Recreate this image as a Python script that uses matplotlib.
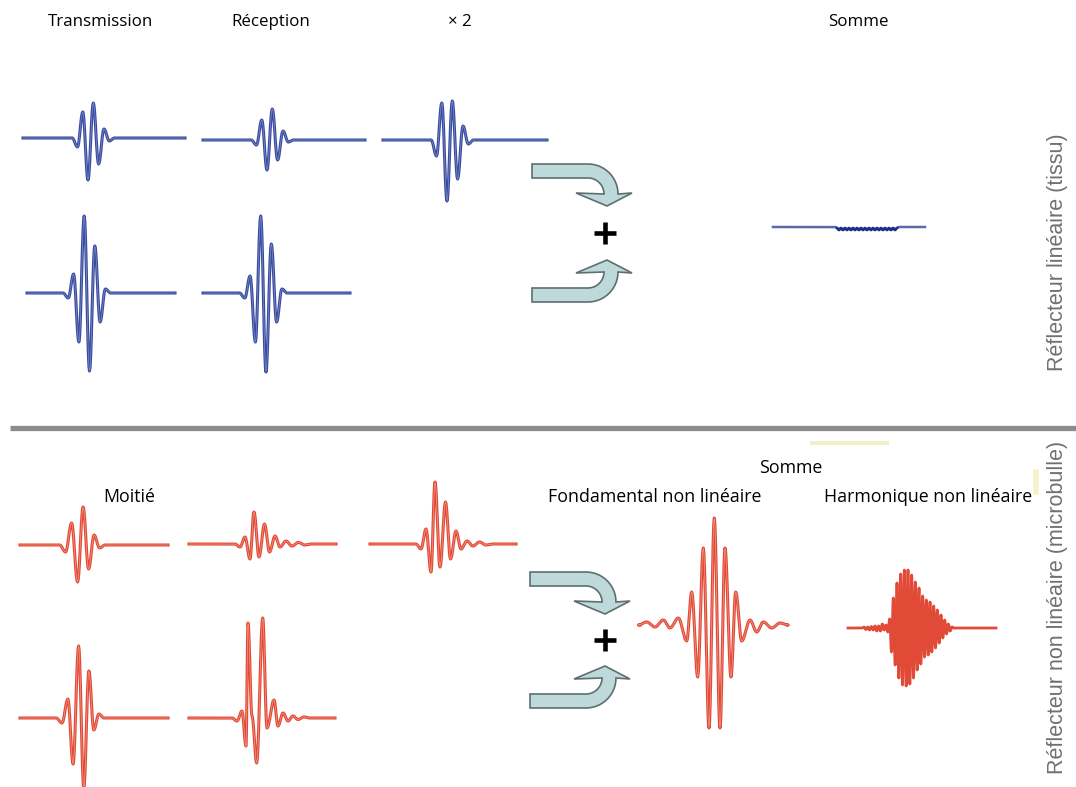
import matplotlib
matplotlib.use('Agg')
import matplotlib.pyplot as plt
import numpy as np
from matplotlib.patches import Polygon

# pulse shapes: extrema offsets (px from pulse centre) and amplitudes (px, up = +)
tx_off = [-10.5, -5.2, 0, 5.3, 10.6, 16, 21.3]
tx_amp = [-9, 26, -42, 35, -26, 9, -3]
rx_amp = [-5, 20, -30, 31, -20, 9, -2]
rx2_amp = [-16, 37, -61, 39, -39, 14, -4]
inv_off = [-21.2, -15.9, -10.6, -5.3, 0, 5.3, 10.6, 15.9]
inv_tx_amp = [-5, 19, -49, 77, -78, 47, -29, 4]
inv_rx_amp = [-5, 17, -49, 77, -79, 49, -29, 4]
lin_sum_amp = [-1, -3, -1, -3, -1, -3, -1, -3, -1, -3, -1, -3, -1, -3, -1, -3,
               -1, -3, -1, -3, -1, -3, -1, -3, -1, -3, -1, -3, -1, -3, -1]

half_off = [-12, -6, 0, 5.5, 11, 16.5, 22]
half_amp = [-7, 22, -37, 38, -24, 10, -3]
mb_off = [-14, -9, -4, 0, 5, 10.5, 15.5, 21, 26, 32, 38, 44.5, 51]
mb_rx_amp = [-3, 7, -15, 32, -13, 20, -8, 8, -3, 3, -2, 1.5, -1]
mb_rx2_amp = [-5, 15, -28, 62, -23, 42, -15, 13, -5, 3, -2, 2, -1]
mb_inv_off = [-16.6, -10.7, -5.5, 0, 5.2, 10.3, 15.2, 20.3]
mb_inv_amp = [-5, 19, -46, 72, -70, 47, -12, 4]
mb_inv_rx_off = [-11, -6, -2, 0, 4, 8.7, 14.7, 19, 26, 30, 35, 40, 45, 50, 56]
mb_inv_rx_amp = [-3, 7, -28, 95, 2, -45, 100, -10, 18, -8, 5, -3, 2, -1.5, 1]
fund_off = [-67.6, -59.3, -51, -44.3, -36, -27.6, -22.6, -16.6, -11, -5.3, 0,
            5.7, 10.7, 16.7, 21.4, 27.4, 35.7, 42.4, 49, 57.4, 65.7]
fund_amp = [3, -2, 5, -3, 7, -16, 33, -52, 77, -103, 107,
            -103, 77, -52, 33, -16, 5, -7, 3, -3, 2]
harm_amp = [1, -1.5, 1, -2, 1.5, -2, 2, -3, 2, -3, 4, -2, 3, -4, 9, -24, 30, -37,
            45, -50, 54, -57, 58, -58, 58, -56, 53, -50, 46, -42, 40, -36, 32, -29,
            28, -27, 26, -24, 22, -20, 18, -15, 13, -10, 8, -6, 4, -3, 1]
lin_sum_off = list(np.linspace(-30, 30, len(lin_sum_amp)))
harm_off = list(np.linspace(-44, 44, len(harm_amp)))

top_labels = ['Transmission', 'Réception', '× 2', 'Somme']
bottom_labels = ['Moitié', 'Somme', 'Fondamental non linéaire', 'Harmonique non linéaire']
side_labels = ['Réflecteur linéaire (tissu)', 'Réflecteur non linéaire (microbulle)']

BLUE = ('#3a4c9e', '#7f8fd0')
RED = ('#e24a38', '#f39a88')


def wave_xy(offs, amps, cx, base, x0, x1, n=10):
    xs = [cx + o for o in offs]
    kx = [x0, xs[0] - (offs[1] - offs[0])] + xs + [xs[-1] + (offs[-1] - offs[-2]), x1]
    ky = [0, 0] + list(amps) + [0, 0]
    X, Y = [], []
    t = np.linspace(0, 1, n)
    for i in range(len(kx) - 1):
        X.extend(kx[i] + (kx[i + 1] - kx[i]) * t)
        Y.extend(ky[i] + (ky[i + 1] - ky[i]) * (1 - np.cos(np.pi * t)) / 2)
    return np.array(X), base - np.array(Y)


def draw_wave(ax, offs, amps, cx, base, x0, x1, col, lw=2.2, core=True):
    X, Y = wave_xy(offs, amps, cx, base, x0, x1)
    ax.plot(X, Y, color=col[0], lw=lw, solid_joinstyle='round', zorder=3)
    if core:
        ax.plot(X, Y, color=col[1], lw=lw * 0.22, zorder=4)


def draw_arrow(ax, x0, y0, down=True):
    # curved block arrow, offsets in px from band start
    pts = [(0, 0), (56, 0)]
    for a in np.linspace(90, 0, 15):
        pts.append((56 + 30 * np.cos(np.radians(a)), 30 - 30 * np.sin(np.radians(a))))
    pts += [(100, 29), (75, 42), (44, 29)]
    for a in np.linspace(0, 90, 12):
        pts.append((56 + 16 * np.cos(np.radians(a)), 30 - 16 * np.sin(np.radians(a))))
    pts.append((0, 14))
    sgn = 1 if down else -1
    xy = [(x0 + dx, y0 + sgn * dy) for dx, dy in pts]
    ax.add_patch(Polygon(xy, closed=True, facecolor='#bdd9da', edgecolor='#5f6e70', lw=1.2, zorder=2))


def draw_plus(ax, x, y):
    ax.plot([x - 11, x + 11], [y, y], color='black', lw=3.3, solid_capstyle='butt', zorder=3)
    ax.plot([x, x], [y - 11, y + 11], color='black', lw=3.3, solid_capstyle='butt', zorder=3)


fig = plt.figure(figsize=(10.76, 7.87), dpi=100)
ax = fig.add_axes([0, 0, 1, 1])
ax.set_xlim(0, 1076)
ax.set_ylim(787, 0)
ax.axis('off')

# linear reflector (tissue)
draw_wave(ax, tx_off, tx_amp, 88, 138, 23, 185, BLUE)
draw_wave(ax, tx_off, rx_amp, 267, 140, 203, 365, BLUE)
draw_wave(ax, tx_off, rx2_amp, 447, 140, 383, 547, BLUE)
draw_wave(ax, inv_off, inv_tx_amp, 89.5, 293, 27, 175, BLUE)
draw_wave(ax, inv_off, inv_rx_amp, 266, 293, 203, 350, BLUE)
X, Y = wave_xy(lin_sum_off, lin_sum_amp, 867, 227, 773, 925, n=6)
ax.plot(X, Y, color='#5a6aa8', lw=1.8, zorder=3)
Xs, Ys = wave_xy(lin_sum_off, lin_sum_amp, 867, 227, 837, 897, n=6)
ax.plot(Xs[12:-12], Ys[12:-12], color='#1e2d8c', lw=1.8, zorder=4)

draw_arrow(ax, 532, 164, down=True)
draw_arrow(ax, 532, 302, down=False)
draw_plus(ax, 605, 233)

# non linear reflector (microbubble)
draw_wave(ax, half_off, half_amp, 77.6, 545, 20, 168, RED)
draw_wave(ax, mb_off, mb_rx_amp, 254, 544, 189, 336, RED)
draw_wave(ax, mb_off, mb_rx2_amp, 435, 544, 370, 516, RED)
draw_wave(ax, mb_inv_off, mb_inv_amp, 78.6, 718, 20, 168, RED)
draw_wave(ax, mb_inv_rx_off, mb_inv_rx_amp, 248, 718, 189, 335, RED)
draw_wave(ax, fund_off, fund_amp, 714.3, 625, 640, 788, RED)
draw_wave(ax, harm_off, harm_amp, 908, 628, 848, 996, RED, lw=2.0, core=False)

draw_arrow(ax, 530, 572, down=True)
draw_arrow(ax, 530, 708, down=False)
draw_plus(ax, 605, 640)

# separator and small highlight marks
ax.plot([10, 1076], [428, 428], color='#8c8c8c', lw=3.8, solid_capstyle='butt', zorder=1)
ax.plot([812, 887], [443, 443], color='#f1f0c4', lw=2.8, zorder=1)
ax.plot([1036, 1036], [472, 492], color='#f4f1cc', lw=4, zorder=1)

font = 'Open Sans'
for lab, x in zip(top_labels, [100, 271, 460, 858]):
    ax.text(x, 22, lab, ha='center', va='center', fontsize=12.2, family=font)
for lab, (x, y) in zip(bottom_labels, [(129, 497), (791, 468), (655, 497), (928, 497)]):
    ax.text(x, y, lab, ha='center', va='center', fontsize=12.8, family=font)
for lab, y in zip(side_labels, [252, 607]):
    ax.text(1058, y, lab, ha='center', va='center', rotation=90, fontsize=15.5,
            family='Liberation Sans', color='#707070')

fig.savefig('out.png', dpi=100)
